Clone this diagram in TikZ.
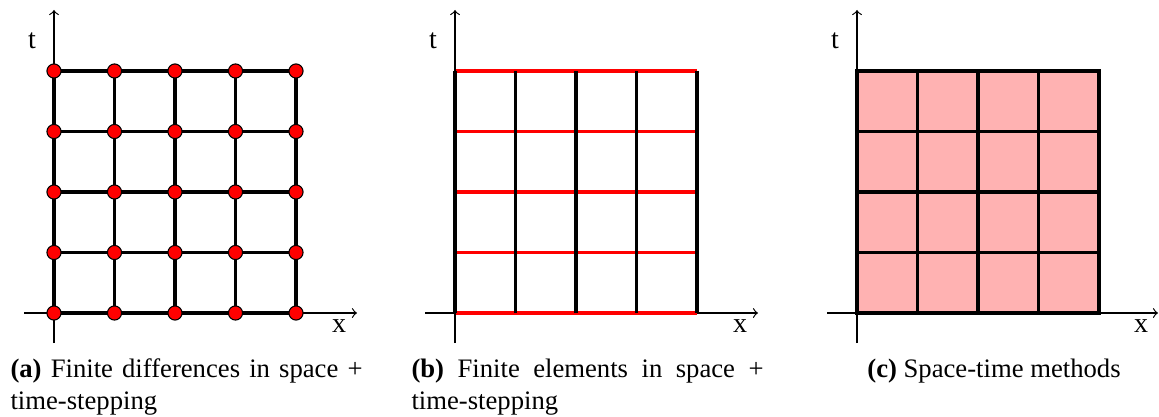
\documentclass[tikz,border=0pt]{standalone}
\usepackage{fontspec}
\setmainfont{Liberation Serif}
\definecolor{dotred}{RGB}{255,0,0}
\definecolor{cellpink}{RGB}{255,178,178}
\begin{document}
\begin{tikzpicture}[x=0.375pt,y=-0.375pt,
  axis/.style={line width=0.45pt,->},
  gridline/.style={line width=1.15pt,black},
  redline/.style={line width=1.15pt,dotred},
  dot/.style={circle,draw=black,line width=0.4pt,fill=dotred,minimum size=5.3pt,inner sep=0pt},
  lbl/.style={font=\fontsize{10.5}{12}\selectfont,inner sep=0pt},
  captext/.style={font=\fontsize{10}{12}\selectfont,inner sep=0pt,text width=132pt,align=justify,anchor=base west},
  captextc/.style={font=\fontsize{10}{12}\selectfont,inner sep=0pt,anchor=base}]
\useasboundingbox (0,0) rectangle (1159,417);

% ---------- panel (a)
\coordinate (a-yb) at (54,343); \coordinate (a-yt) at (54,10);
\coordinate (a-xl) at (24,313); \coordinate (a-xr) at (357,313);
\draw[axis] (a-yb) -- (a-yt);
\draw[axis] (a-xl) -- (a-xr);
\node[lbl] (a-t) at (32,41) {t};
\node[lbl] (a-x) at (339,326) {x};
\foreach \i in {0,...,4}{
  \draw[gridline] (54+60.5*\i,71) -- (54+60.5*\i,313);
  \draw[gridline] (54,71+60.5*\i) -- (296,71+60.5*\i);
}
\foreach \i in {0,...,4}{
  \foreach \j in {0,...,4}{
    \node[dot] (a-d\i\j) at (54+60.5*\i,71+60.5*\j) {};
  }
}
\node[captext] (a-cap) at (10,377) {\textbf{(a)} Finite differences in space + time-stepping};

% ---------- panel (b)
\coordinate (b-yb) at (455,343); \coordinate (b-yt) at (455,10);
\coordinate (b-xl) at (425,313); \coordinate (b-xr) at (758,313);
\draw[axis] (b-yb) -- (b-yt);
\draw[axis] (b-xl) -- (b-xr);
\node[lbl] (b-t) at (433,41) {t};
\node[lbl] (b-x) at (740,326) {x};
\foreach \j in {0,...,4}{
  \draw[redline] (456,71+60.5*\j) -- (697,71+60.5*\j);
}
\foreach \i in {0,...,4}{
  \draw[gridline] (455+60.5*\i,71) -- (455+60.5*\i,313);
}
\node[captext] (b-cap) at (411,377) {\textbf{(b)} Finite elements in space + time-stepping};

% ---------- panel (c)
\coordinate (c-yb) at (857,343); \coordinate (c-yt) at (857,10);
\coordinate (c-xl) at (827,313); \coordinate (c-xr) at (1158,313);
\draw[axis] (c-yb) -- (c-yt);
\draw[axis] (c-xl) -- (c-xr);
\node[lbl] (c-t) at (835,41) {t};
\node[lbl] (c-x) at (1141,326) {x};
\fill[cellpink] (857,71) rectangle (1099,313);
\foreach \i in {1,...,3}{
  \draw[gridline] (857+60.5*\i,71) -- (857+60.5*\i,313);
  \draw[gridline] (857,71+60.5*\i) -- (1099,71+60.5*\i);
}
\draw[gridline] (857,71) rectangle (1099,313);
\node[captextc] (c-cap) at (994,377) {\textbf{(c)} Space-time methods};
\end{tikzpicture}
\end{document}
